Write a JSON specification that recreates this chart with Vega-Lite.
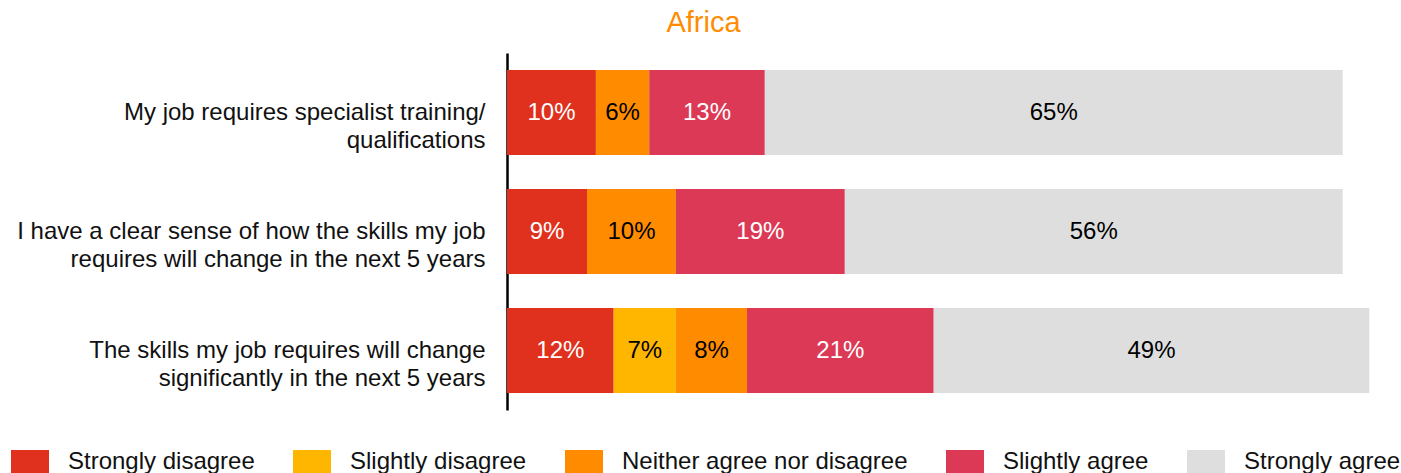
{
  "$schema": "https://vega.github.io/schema/vega-lite/v6.json",
  "width": 889,
  "height": 357,
  "autosize": {"type": "none"},
  "padding": {"left": 507, "top": 53, "right": 5, "bottom": 63},
  "background": "white",
  "title": {"text": "Africa", "fontSize": 29, "font": "Liberation Sans", "fontWeight": "normal", "color": "#FF8C00", "anchor": "middle", "dx": -248, "offset": -8, "baseline": "alphabetic"},
  "data": {"values": [
    {"statement": "My job requires specialist training/|qualifications", "response": "Strongly disagree", "rank": 1, "pct": 0.10},
    {"statement": "My job requires specialist training/|qualifications", "response": "Neither agree nor disagree", "rank": 3, "pct": 0.06},
    {"statement": "My job requires specialist training/|qualifications", "response": "Slightly agree", "rank": 4, "pct": 0.13},
    {"statement": "My job requires specialist training/|qualifications", "response": "Strongly agree", "rank": 5, "pct": 0.65},
    {"statement": "I have a clear sense of how the skills my job|requires will change in the next 5 years", "response": "Strongly disagree", "rank": 1, "pct": 0.09},
    {"statement": "I have a clear sense of how the skills my job|requires will change in the next 5 years", "response": "Neither agree nor disagree", "rank": 3, "pct": 0.10},
    {"statement": "I have a clear sense of how the skills my job|requires will change in the next 5 years", "response": "Slightly agree", "rank": 4, "pct": 0.19},
    {"statement": "I have a clear sense of how the skills my job|requires will change in the next 5 years", "response": "Strongly agree", "rank": 5, "pct": 0.56},
    {"statement": "The skills my job requires will change|significantly in the next 5 years", "response": "Strongly disagree", "rank": 1, "pct": 0.12},
    {"statement": "The skills my job requires will change|significantly in the next 5 years", "response": "Slightly disagree", "rank": 2, "pct": 0.07},
    {"statement": "The skills my job requires will change|significantly in the next 5 years", "response": "Neither agree nor disagree", "rank": 3, "pct": 0.08},
    {"statement": "The skills my job requires will change|significantly in the next 5 years", "response": "Slightly agree", "rank": 4, "pct": 0.21},
    {"statement": "The skills my job requires will change|significantly in the next 5 years", "response": "Strongly agree", "rank": 5, "pct": 0.49}
  ]},
  "encoding": {
    "y": {
      "field": "statement", "type": "nominal", "title": null,
      "sort": ["My job requires specialist training/|qualifications", "I have a clear sense of how the skills my job|requires will change in the next 5 years", "The skills my job requires will change|significantly in the next 5 years"],
      "scale": {"paddingInner": 0.286, "paddingOuter": 0.143},
      "axis": {"labelExpr": "split(datum.label, '|')", "domainColor": "black", "domainWidth": 2.5, "ticks": false, "grid": false, "labelFontSize": 24, "labelFont": "Liberation Sans", "labelColor": "#111111", "labelPadding": 22, "labelLineHeight": 28, "labelLimit": 600, "labelBaseline": "middle"}
    }
  },
  "layer": [
    {
      "mark": {"type": "bar"},
      "encoding": {
        "x": {"field": "pct", "type": "quantitative", "stack": "zero", "scale": {"domain": [0, 1]}, "axis": null},
        "color": {
          "field": "response", "type": "nominal",
          "scale": {"domain": ["Strongly disagree", "Slightly disagree", "Neither agree nor disagree", "Slightly agree", "Strongly agree"], "range": ["#E0301E", "#FFB600", "#FF8C00", "#DB3956", "#DEDEDE"]},
          "legend": {"orient": "none", "legendX": -496, "legendY": 389.5, "direction": "horizontal", "title": null, "symbolType": "M-1,-0.605H1V0.605H-1Z", "symbolSize": 1444, "symbolStrokeWidth": 0, "symbolOpacity": 1, "labelFontSize": 24, "labelFont": "Liberation Sans", "labelColor": "#111111", "labelOffset": 19, "columnPadding": 38, "padding": 0, "labelLimit": 500}
        },
        "order": {"field": "rank", "type": "quantitative"}
      }
    },
    {
      "mark": {"type": "text", "fontSize": 24, "font": "Liberation Sans", "baseline": "middle", "align": "center"},
      "encoding": {
        "x": {"field": "pct", "type": "quantitative", "stack": "zero", "bandPosition": 0.5},
        "detail": {"field": "response"},
        "order": {"field": "rank", "type": "quantitative"},
        "text": {"field": "pct", "type": "quantitative", "format": ".0%"},
        "color": {"condition": {"test": "datum.response === 'Strongly disagree' || datum.response === 'Slightly agree'", "value": "white"}, "value": "black"}
      }
    }
  ],
  "config": {"view": {"stroke": null}}
}
